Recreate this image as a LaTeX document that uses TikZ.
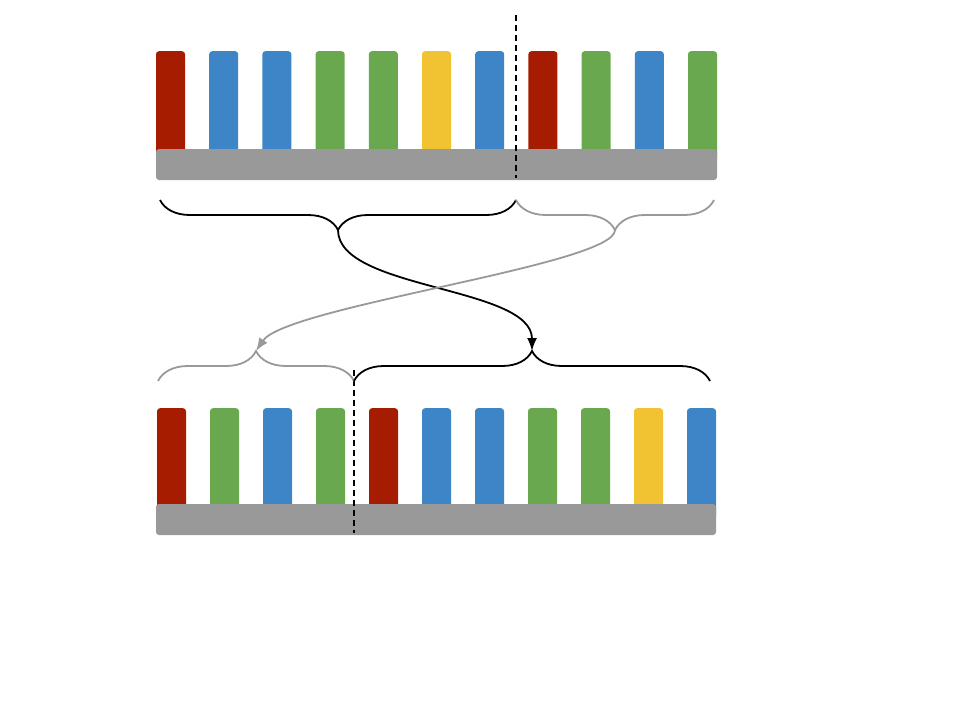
\documentclass[tikz,border=0pt]{standalone}
\usetikzlibrary{arrows.meta, calc, decorations.pathreplacing}
\definecolor{barred}{HTML}{A61C00}
\definecolor{barblue}{HTML}{3D85C6}
\definecolor{bargreen}{HTML}{6AA84F}
\definecolor{baryellow}{HTML}{F1C232}
\definecolor{basegray}{HTML}{999999}

\begin{document}
\begin{tikzpicture}[x=1pt, y=1pt,
                barnode/.style={rectangle, rounded corners=3pt, inner sep=0pt, minimum width=29pt, minimum height=110pt, anchor=north},
                basenode/.style={rectangle, rounded corners=3pt, inner sep=0pt, fill=basegray, minimum height=31pt},
                bracepath/.style={decorate, decoration={brace, amplitude=30pt}, line width=1.8pt},
                swap/.style={-{Latex[length=13pt, width=10pt]}, line width=1.8pt},
                cut/.style={dash pattern=on 6pt off 4pt, line width=1.8pt}]
            \useasboundingbox (0,0) rectangle (960,-720);
            % top strip
            \foreach \c [count=\i] in {barred, barblue, barblue, bargreen, bargreen, baryellow, barblue, barred, bargreen, barblue, bargreen}
                \node[barnode, fill=\c] (t\i) at ({170.5+53.2*(\i-1)}, -51) {};
            \node[basenode, minimum width=561pt] (tbase) at (436.5,-164.5) {};
            % bottom strip
            \foreach \c [count=\i] in {barred, bargreen, barblue, bargreen, barred, barblue, barblue, bargreen, bargreen, baryellow, barblue}
                \node[barnode, fill=\c] (b\i) at ({171.5+53*(\i-1)}, -408) {};
            \node[basenode, minimum width=560pt] (bbase) at (436,-519.5) {};
            % cut lines
            \coordinate (tcut) at (516,-15);
            \coordinate (bcut) at (354,-370);
            \draw[cut] (tcut) -- (tcut |- 0,-178);
            \draw[cut] (bcut) -- (bcut |- 0,-533);
            % braces
            \coordinate (tl) at (160,-200);
            \coordinate (tm) at (516,-200);
            \coordinate (tr) at (714,-200);
            \coordinate (bl) at (158,-381);
            \coordinate (bm) at (354,-381);
            \coordinate (br) at (710,-381);
            \draw[bracepath] (tm) -- (tl);
            \draw[bracepath, basegray] (tr) -- (tm);
            \draw[bracepath, basegray] (bl) -- (bm);
            \draw[bracepath] (bm) -- (br);
            \coordinate (tltip) at ($(tl)!0.5!(tm)+(0,-30)$);
            \coordinate (trtip) at ($(tm)!0.5!(tr)+(0,-30)$);
            \coordinate (bltip) at ($(bl)!0.5!(bm)+(0,30)$);
            \coordinate (brtip) at ($(bm)!0.5!(br)+(0,30)$);
            % swaps
            \draw[swap] (tltip) .. controls ($(tltip)+(0,-60)$) and ($(brtip)+(0,65)$) .. (brtip);
            \draw[swap, basegray] (trtip) .. controls ($(trtip)+(0,-35)$) and ($(bltip)+(30,45)$) .. (bltip);
        \end{tikzpicture}
\end{document}
